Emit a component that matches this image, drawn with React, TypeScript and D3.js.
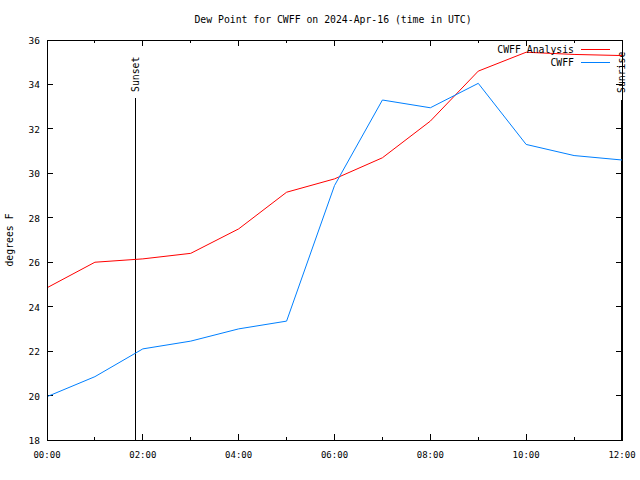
import React from "react";
import * as d3 from "d3";

const hours = [0, 1, 2, 3, 4, 5, 6, 7, 8, 9, 10, 11, 12];
const analysis = [24.85, 26.0, 26.15, 26.4, 27.5, 29.15, 29.75, 30.7, 32.35, 34.6, 35.45, 35.35, 35.3];
const cwff = [19.95, 20.85, 22.1, 22.45, 23.0, 23.35, 29.45, 33.3, 32.95, 34.05, 31.3, 30.8, 30.6];
const yTicks = [18, 20, 22, 24, 26, 28, 30, 32, 34, 36];
const xMajor = [0, 2, 4, 6, 8, 10, 12];
const xMinor = [1, 3, 5, 7, 9, 11];
const xLabels = ["00:00", "02:00", "04:00", "06:00", "08:00", "10:00", "12:00"];
const sunsetHour = 1.84;
const sunriseHour = 11.98;

const W = 640, H = 480;
const L = 47, R = 622, T = 40, B = 440;
const mono = "'DejaVu Sans Mono', monospace";

export default function App() {
  const x = d3.scaleLinear().domain([0, 12]).range([L, R]);
  const y = d3.scaleLinear().domain([18, 36]).range([B, T]);
  const line = d3.line<number>().x((_, i) => x(hours[i])).y((d) => y(d));

  return (
    <svg width={W} height={H} style={{ position: "absolute", left: 0, top: 0, background: "#fff" }}>
      <rect x={0} y={0} width={W} height={H} fill="#fff" />
      <text x={333} y={23} textAnchor="middle" fontFamily={mono} fontSize={9.8} fill="#000">
        Dew Point for CWFF on 2024-Apr-16 (time in UTC)
      </text>
      {yTicks.map((t) => (
        <g key={"y" + t} shapeRendering="crispEdges">
          <line x1={L} x2={L + 6} y1={y(t)} y2={y(t)} stroke="#000" />
          <line x1={R - 6} x2={R} y1={y(t)} y2={y(t)} stroke="#000" />
          <text x={40} y={y(t) + 4} textAnchor="end" fontFamily={mono} fontSize={9.5} fill="#000">
            {t}
          </text>
        </g>
      ))}
      {xMajor.map((t, i) => (
        <g key={"x" + t} shapeRendering="crispEdges">
          <line x1={x(t)} x2={x(t)} y1={B} y2={B - 6} stroke="#000" />
          <line x1={x(t)} x2={x(t)} y1={T} y2={T + 6} stroke="#000" />
          <text x={x(t)} y={458} textAnchor="middle" fontFamily={mono} fontSize={9} fill="#000">
            {xLabels[i]}
          </text>
        </g>
      ))}
      {xMinor.map((t) => (
        <g key={"m" + t} shapeRendering="crispEdges">
          <line x1={x(t)} x2={x(t)} y1={B} y2={B - 3} stroke="#000" />
          <line x1={x(t)} x2={x(t)} y1={T} y2={T + 3} stroke="#000" />
        </g>
      ))}
      <text
        transform={`translate(13,${(T + B) / 2}) rotate(-90)`}
        textAnchor="middle"
        fontFamily={mono}
        fontSize={9.8}
        fill="#000"
      >
        degrees F
      </text>
      <line x1={x(sunsetHour)} x2={x(sunsetHour)} y1={B} y2={98} stroke="#000" shapeRendering="crispEdges" />
      <text
        transform={`translate(${x(sunsetHour) + 4},92) rotate(-90)`}
        textAnchor="start"
        fontFamily={mono}
        fontSize={9.8}
        fill="#000"
      >
        Sunset
      </text>
      <line x1={x(sunriseHour)} x2={x(sunriseHour)} y1={B} y2={100} stroke="#000" shapeRendering="crispEdges" />
      <text
        transform={`translate(${x(sunriseHour) + 4},93) rotate(-90)`}
        textAnchor="start"
        fontFamily={mono}
        fontSize={9.8}
        fill="#000"
      >
        Sunrise
      </text>
      <path d={line(analysis) || ""} fill="none" stroke="#ff0000" strokeWidth={1} />
      <path d={line(cwff) || ""} fill="none" stroke="#0080ff" strokeWidth={1} />
      <text x={574} y={53} textAnchor="end" fontFamily={mono} fontSize={9.8} fill="#000">
        CWFF Analysis
      </text>
      <line x1={581} x2={610} y1={49} y2={49} stroke="#ff0000" shapeRendering="crispEdges" />
      <text x={574} y={66} textAnchor="end" fontFamily={mono} fontSize={9.8} fill="#000">
        CWFF
      </text>
      <line x1={581} x2={610} y1={62} y2={62} stroke="#0080ff" shapeRendering="crispEdges" />
      <rect x={L} y={T} width={R - L} height={B - T} fill="none" stroke="#000" shapeRendering="crispEdges" />
    </svg>
  );
}
